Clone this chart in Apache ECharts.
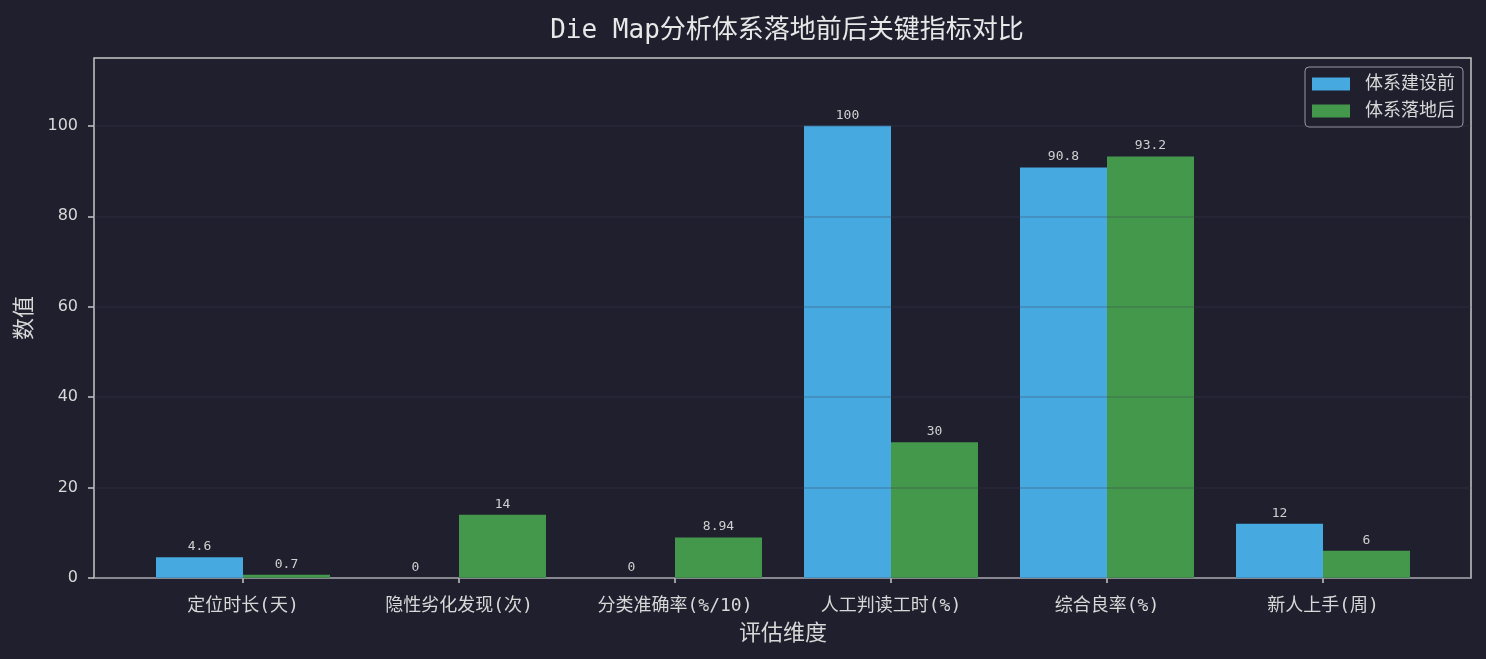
<!DOCTYPE html>
<html>
<head>
<meta charset="utf-8">
<script src="https://cdn.jsdelivr.net/npm/echarts@6/dist/echarts.min.js"></script>
<style>
  html, body { margin: 0; padding: 0; background: #1f1f2e; }
  #chart { width: 1486px; height: 659px; }
</style>
</head>
<body>
<div id="chart"></div>
<script>
/* Die Map 前后对比 — grouped bars on a dark theme */
(function () {
  "use strict";

  const categories = ["定位时长(天)", "隐性劣化发现(次)", "分类准确率(%/10)", "人工判读工时(%)", "综合良率(%)", "新人上手(周)"];
  const seriesNames = ["体系建设前", "体系落地后"];
  const beforeValues = [4.6, 0, 0, 100, 90.8, 12];
  const afterValues = [0.7, 14, 8.94, 30, 93.2, 6];
  const yTickValues = [0, 20, 40, 60, 80, 100];
  const yRange = { min: 0, max: 115 };

  const MONO = "'DejaVu Sans Mono', 'Noto Sans CJK SC', monospace";
  const SANS = "'DejaVu Sans', 'Noto Sans CJK SC', sans-serif";
  const TXT = "#d8d8d8";
  const AXIS = "#c8c8c8";

  const chart = echarts.init(document.getElementById("chart"), null, { renderer: "canvas" });

  const label = {
    show: true, position: "top", distance: 4,
    color: "#d0d0d0", fontFamily: MONO, fontSize: 13,
  };

  chart.setOption({
    backgroundColor: "#1f1f2e",
    animation: false,
    title: {
      text: "Die Map分析体系落地前后关键指标对比",
      left: 782, textAlign: "center", top: 13,
      textStyle: { color: "#e8e8e8", fontFamily: MONO, fontSize: 26, fontWeight: "normal" },
    },
    legend: {
      orient: "vertical", right: 23, top: 67,
      data: seriesNames,
      icon: "rect", itemWidth: 38, itemHeight: 13, itemGap: 9,
      padding: [8, 8, 7, 7],
      borderColor: "#9a9aa2", borderWidth: 1, borderRadius: 4,
      backgroundColor: "rgba(31,31,46,0.8)",
      textStyle: { color: TXT, fontFamily: MONO, fontSize: 18, padding: [0, 0, 0, 10] },
    },
    grid: [
      // outer box, y axis and gridlines
      { left: 94, right: 15, top: 58, bottom: 81, show: true, borderColor: AXIS, borderWidth: 1.5, z: 0 },
      // inner band for the bars (matplotlib-like margins)
      { left: 135, right: 55, top: 58, bottom: 81 },
    ],
    xAxis: [
      { gridIndex: 0, type: "value", min: 0, max: 1, show: false },
      {
        gridIndex: 1, type: "category", data: categories,
        axisLine: { show: false },
        axisTick: { show: true, alignWithLabel: true, length: 5, lineStyle: { color: AXIS, width: 1.5 } },
        axisLabel: { color: TXT, fontFamily: MONO, fontSize: 18, margin: 19 },
        name: "评估维度", nameLocation: "middle", nameGap: 45,
        nameTextStyle: { color: TXT, fontFamily: SANS, fontSize: 22 },
      },
    ],
    yAxis: [
      {
        gridIndex: 0, type: "value", min: yRange.min, max: yRange.max, interval: 20, z: 5,
        axisLine: { show: false },
        axisTick: { show: true, length: 6, customValues: yTickValues, lineStyle: { color: AXIS, width: 1.5 } },
        axisLabel: { color: TXT, fontFamily: SANS, fontSize: 16, margin: 16, customValues: yTickValues },
        splitLine: { show: true, lineStyle: { color: "rgba(60,60,85,0.3)", width: 1.5 } },
        name: "数值", nameLocation: "middle", nameGap: 52, nameRotate: 90,
        nameTextStyle: { color: TXT, fontFamily: SANS, fontSize: 22 },
      },
      { gridIndex: 1, type: "value", min: yRange.min, max: yRange.max, show: false },
    ],
    series: [
      {
        name: seriesNames[0], type: "bar", xAxisIndex: 1, yAxisIndex: 1,
        data: beforeValues, barWidth: 87, barGap: "0%",
        itemStyle: { color: "#46a9e0" }, label,
      },
      {
        name: seriesNames[1], type: "bar", xAxisIndex: 1, yAxisIndex: 1,
        data: afterValues, barWidth: 87, barGap: "0%",
        itemStyle: { color: "#44984b" }, label,
      },
    ],
  });
  window.addEventListener("resize", () => chart.resize());
})();
</script>
</body>
</html>
